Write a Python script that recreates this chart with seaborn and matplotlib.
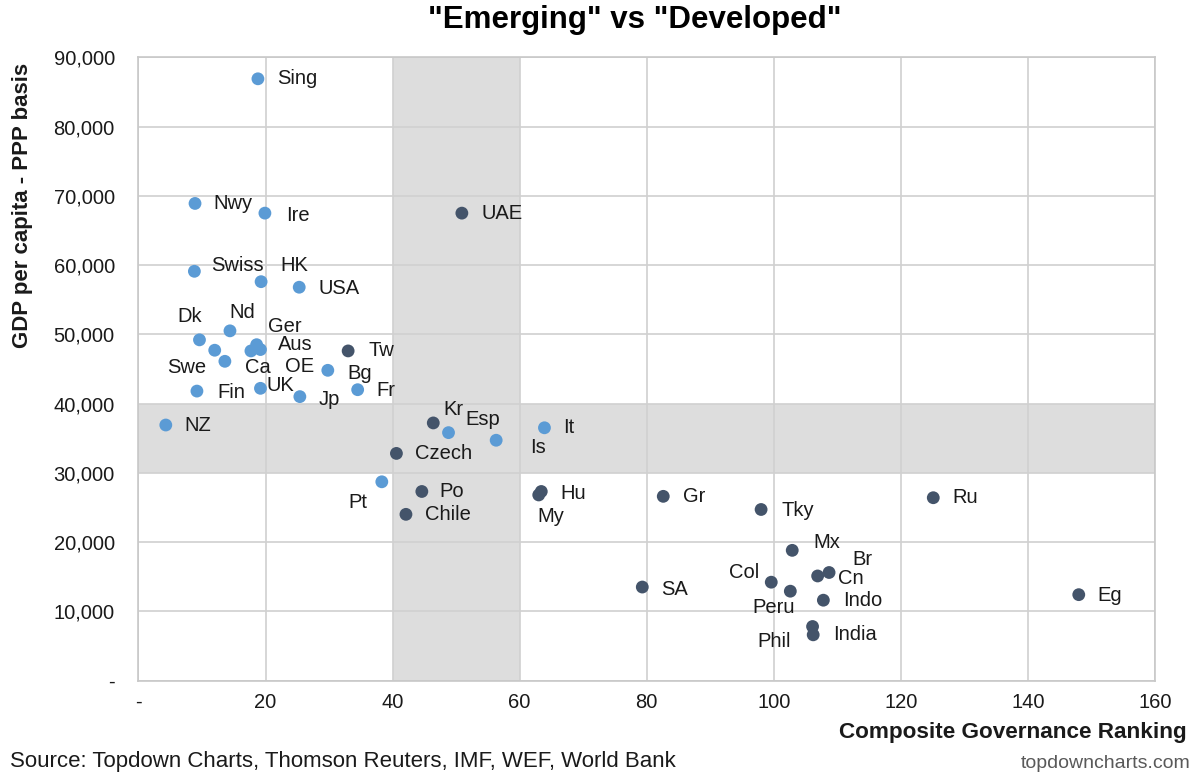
import matplotlib
matplotlib.use("Agg")
import matplotlib.pyplot as plt
import seaborn as sns
import pandas as pd

# ---------------- data ----------------
names = ["Sing", "Nwy", "Ire", "UAE", "Swiss", "HK", "USA", "Nd", "Dk", "Swe",
         "Ca", "Ger", "OE", "Aus", "Bg", "Tw", "Fr", "Fin", "UK", "Jp",
         "NZ", "Kr", "Esp", "Is", "It", "Czech", "Pt", "Po", "Chile", "Hu",
         "My", "Gr", "Tky", "Ru", "Eg", "SA", "Mx", "Col", "Peru", "Cn",
         "Br", "Indo", "Phil", "India"]
governance_rank = [18.8, 8.9, 19.9, 50.9, 8.8, 19.3, 25.3, 14.4, 9.6, 12.0,
                   13.6, 18.6, 17.7, 19.2, 29.8, 33.0, 34.5, 9.2, 19.2, 25.4,
                   4.3, 46.4, 48.8, 56.3, 63.9, 40.6, 38.3, 44.6, 42.1, 63.4,
                   63.0, 82.6, 98.0, 125.1, 148.0, 79.3, 102.9, 99.6, 102.6, 106.9,
                   108.7, 107.8, 106.1, 106.2]
gdp_ppp = [86900, 68900, 67500, 67500, 59100, 57600, 56800, 50500, 49200, 47700,
           46100, 48500, 47600, 47800, 44800, 47600, 42000, 41800, 42200, 41000,
           36900, 37200, 35800, 34700, 36500, 32800, 28700, 27300, 24000, 27300,
           26800, 26600, 24700, 26400, 12400, 13500, 18800, 14200, 12900, 15100,
           15600, 11600, 7800, 6600]
group = ["Developed", "Developed", "Developed", "Emerging", "Developed", "Developed",
         "Developed", "Developed", "Developed", "Developed", "Developed", "Developed",
         "Developed", "Developed", "Developed", "Emerging", "Developed", "Developed",
         "Developed", "Developed", "Developed", "Emerging", "Developed", "Developed",
         "Developed", "Emerging", "Developed", "Emerging", "Emerging", "Emerging",
         "Emerging", "Emerging", "Emerging", "Emerging", "Emerging", "Emerging",
         "Emerging", "Emerging", "Emerging", "Emerging", "Emerging", "Emerging",
         "Emerging", "Emerging"]

x_ticks = [0, 20, 40, 60, 80, 100, 120, 140, 160]
y_ticks = [0, 10000, 20000, 30000, 40000, 50000, 60000, 70000, 80000, 90000]
band_x = (40, 60)
band_y = (30000, 40000)

# label placement: (horizontal alignment, dx px, dy px up)
label_pos = {
    "Sing": ("left", 19, 0), "Nwy": ("left", 18, 0), "Ire": ("left", 21, -2),
    "UAE": ("left", 20, 0), "Swiss": ("left", 17, 6), "HK": ("left", 19, 16),
    "USA": ("left", 19, -1), "Dk": ("center", -10, 23), "Nd": ("center", 12, 18),
    "Ger": ("left", 11, 18), "Aus": ("left", 17, 5), "Swe": ("right", -8, -17),
    "Ca": ("left", 20, -6), "OE": ("center", 49, -16), "Bg": ("left", 20, -3),
    "Tw": ("left", 20, 0), "Fr": ("left", 19, -1), "Fin": ("left", 20, -1),
    "UK": ("left", 6, 3), "Jp": ("left", 19, -3), "NZ": ("left", 19, 0),
    "Kr": ("left", 10, 13), "Esp": ("left", 17, 13), "Is": ("left", 34, -7),
    "It": ("left", 19, 0), "Czech": ("left", 19, 0), "Pt": ("right", -14, -21),
    "Po": ("left", 18, 0), "Chile": ("left", 19, 0), "Hu": ("left", 19, -2),
    "My": ("center", 12, -22), "Gr": ("left", 20, 0), "Tky": ("left", 20, -1),
    "Ru": ("left", 19, 0), "Eg": ("left", 19, -1), "SA": ("left", 19, -2),
    "Mx": ("left", 21, 8), "Br": ("left", 23, 13), "Cn": ("left", 20, -3),
    "Col": ("right", -12, 10), "Peru": ("right", 5, -16), "Indo": ("left", 20, 0),
    "India": ("left", 20, 0), "Phil": ("right", -22, -15),
}

df = pd.DataFrame({"name": names, "rank": governance_rank, "gdp": gdp_ppp, "group": group})

# ---------------- style ----------------
sns.set_theme(style="white")
plt.rcParams["font.family"] = ["Liberation Sans", "DejaVu Sans"]

LIGHT = "#5B9BD5"
DARK = "#44546A"
BAND = "#DDDDDD"
GRID = "#D0D0D0"

fig = plt.figure(figsize=(12, 7.78), dpi=100)
ax = fig.add_axes([0.1154, 0.1253, 0.8471, 0.8010])

ax.axvspan(*band_x, color=BAND, lw=0, zorder=0.2)
ax.axhspan(*band_y, color=BAND, lw=0, zorder=0.2)

sns.scatterplot(data=df, x="rank", y="gdp", hue="group",
                palette={"Developed": LIGHT, "Emerging": DARK},
                s=85, linewidth=0, legend=False, ax=ax, zorder=3)

for _, r in df.iterrows():
    ha, dx, dy = label_pos[r["name"]]
    ax.annotate(r["name"], (r["rank"], r["gdp"]), xytext=(dx, dy),
                textcoords="offset pixels", ha=ha, va="center",
                fontsize=14.5, color="#1a1a1a", zorder=4)

ax.set_xlim(0, 160)
ax.set_ylim(0, 90000)
ax.set_xticks(x_ticks)
ax.set_xticklabels(["-" if v == 0 else f"{v}" for v in x_ticks])
ax.set_yticks(y_ticks)
ax.set_yticklabels(["-" if v == 0 else f"{v:,}" for v in y_ticks])
ax.tick_params(axis="both", length=0, labelsize=14.5, colors="#1a1a1a")
ax.tick_params(axis="y", pad=17)
ax.tick_params(axis="x", pad=9)

ax.grid(True, color=GRID, lw=1.2)
ax.set_axisbelow(True)
for sp in ax.spines.values():
    sp.set_color("#C8C8C8")
    sp.set_linewidth(1.2)
ax.set_xlabel("")
ax.set_ylabel("")

fig.text(0.529, 0.974, '"Emerging" vs "Developed"', ha="center", va="center",
         fontsize=22.5, fontweight="bold", color="black")
fig.text(0.019, 0.736, "GDP per capita - PPP basis", rotation=90, ha="center",
         va="center", fontsize=16, fontweight="bold", color="#1a1a1a")
fig.text(0.989, 0.059, "Composite Governance Ranking", ha="right", va="center",
         fontsize=16.2, fontweight="bold", color="#1a1a1a")
fig.text(0.008, 0.021, "Source: Topdown Charts, Thomson Reuters, IMF, WEF, World Bank",
         ha="left", va="center", fontsize=16, color="#1a1a1a")
fig.text(0.992, 0.018, "topdowncharts.com", ha="right", va="center",
         fontsize=14, color="#595959")

fig.savefig("out.png", dpi=100)
